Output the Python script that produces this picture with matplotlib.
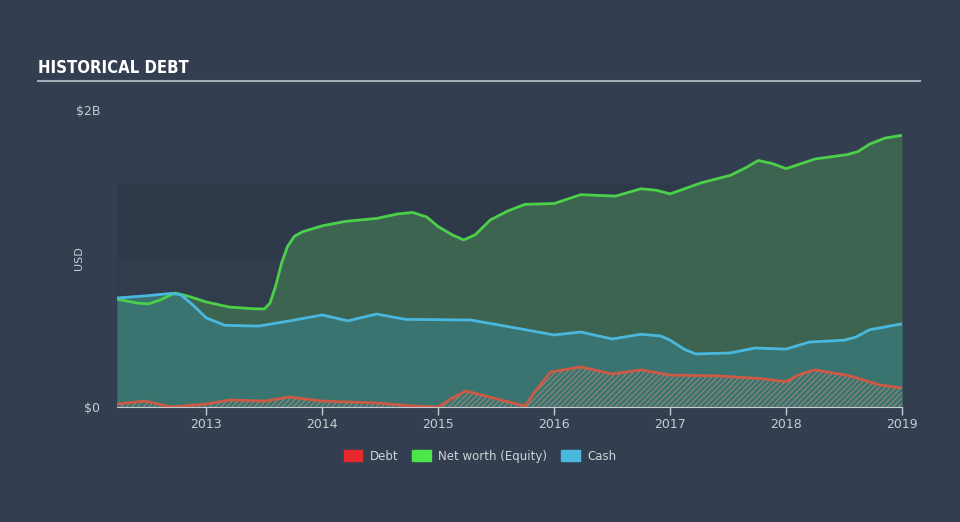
import matplotlib.pyplot as plt
from matplotlib.patches import Patch

# values in billions USD, x in decimal years
eq_x = [2012.23, 2012.4, 2012.5, 2012.6, 2012.73, 2012.85, 2013.0, 2013.2, 2013.4, 2013.5, 2013.55, 2013.6,
        2013.65, 2013.7, 2013.76, 2013.83, 2014.0, 2014.2, 2014.47, 2014.65, 2014.78, 2014.9, 2015.0,
        2015.12, 2015.22, 2015.32, 2015.45, 2015.6, 2015.75, 2016.0, 2016.23, 2016.53, 2016.75, 2016.88,
        2017.0, 2017.27, 2017.52, 2017.65, 2017.76, 2017.88, 2018.0, 2018.25, 2018.53, 2018.62, 2018.72,
        2018.85, 2019.0]
eq_y = [0.727, 0.70, 0.694, 0.72, 0.768, 0.745, 0.707, 0.673, 0.662, 0.66, 0.70, 0.82,
        0.97, 1.08, 1.15, 1.18, 1.22, 1.25, 1.27, 1.30, 1.31, 1.28, 1.215,
        1.16, 1.125, 1.16, 1.26, 1.32, 1.365, 1.37, 1.43, 1.42, 1.47, 1.46,
        1.435, 1.51, 1.56, 1.61, 1.66, 1.64, 1.605, 1.67, 1.70, 1.72, 1.77,
        1.81, 1.83]

cash_x = [2012.23, 2012.5, 2012.7, 2012.78, 2012.88, 2013.0, 2013.16, 2013.45, 2013.72, 2014.0, 2014.22,
          2014.47, 2014.72, 2015.28, 2015.72, 2016.0, 2016.23, 2016.5, 2016.75, 2016.92, 2017.0, 2017.12,
          2017.22, 2017.52, 2017.73, 2018.0, 2018.2, 2018.5, 2018.6, 2018.72, 2019.0]
cash_y = [0.734, 0.75, 0.765, 0.755, 0.69, 0.60, 0.55, 0.545, 0.58, 0.62, 0.58,
          0.626, 0.59, 0.586, 0.525, 0.485, 0.505, 0.458, 0.49, 0.478, 0.45, 0.39,
          0.357, 0.364, 0.397, 0.39, 0.437, 0.45, 0.47, 0.52, 0.56]

debt_x = [2012.23, 2012.47, 2012.7, 2013.0, 2013.2, 2013.5, 2013.72, 2014.0, 2014.47, 2014.77, 2015.0,
          2015.1, 2015.24, 2015.54, 2015.75, 2015.85, 2015.97, 2016.23, 2016.5, 2016.75, 2017.0, 2017.4,
          2017.8, 2018.0, 2018.12, 2018.25, 2018.55, 2018.8, 2019.0]
debt_y = [0.02, 0.04, 0.0, 0.02, 0.047, 0.04, 0.067, 0.04, 0.027, 0.007, 0.0,
          0.05, 0.108, 0.047, 0.007, 0.12, 0.236, 0.27, 0.222, 0.25, 0.215, 0.21,
          0.19, 0.17, 0.22, 0.25, 0.21, 0.15, 0.128]

years = [2013, 2014, 2015, 2016, 2017, 2018, 2019]

bg = "#333f50"
plt.rcParams['hatch.linewidth'] = 0.8

fig = plt.figure(figsize=(9.6, 5.22), dpi=100, facecolor=bg)
ax = fig.add_axes([117 / 960, 1 - 407 / 522, 785 / 960, 297 / 522])
ax.set_facecolor(bg)

ax.axhspan(1.0, 1.5, color="#2e3a4a", lw=0, zorder=0)
ax.axhspan(0.5, 1.0, color="#313d4d", lw=0, zorder=0)

ax.fill_between(eq_x, eq_y, 0, color="#3c6451", lw=0, zorder=1)
ax.fill_between(cash_x, cash_y, 0, color="#3a7470", lw=0, zorder=2)
ax.fill_between(debt_x, debt_y, 0, facecolor="none", edgecolor="#948679", hatch="//////", lw=0, zorder=3)

ax.plot(eq_x, eq_y, color="#4cd04a", lw=2, zorder=5, label="Net worth (Equity)", solid_joinstyle="round")
ax.plot(cash_x, cash_y, color="#4ab8de", lw=2, zorder=5, label="Cash", solid_joinstyle="round")
ax.plot(debt_x, debt_y, color="#cc5a44", lw=2, zorder=4, label="Debt", solid_joinstyle="round")

ax.set_xlim(2012.23, 2019.0)
ax.set_ylim(0, 2)
ax.set_xticks(years)
ax.set_xticklabels([str(y) for y in years])
ax.set_yticks([0, 2])
ax.set_yticklabels(["$0", "$2B"])
ax.tick_params(axis="x", colors="#c8ccd2", labelsize=9, length=6, width=1, pad=2)
ax.tick_params(axis="y", colors="#c8ccd2", labelsize=9, length=0, pad=12)
for side in ["top", "right", "left"]:
    ax.spines[side].set_visible(False)
ax.spines["bottom"].set_color("#c8ccd2")
ax.set_ylabel("USD", color="#c8ccd2", fontsize=8)
ax.yaxis.set_label_coords(-0.042, 0.5)

fig.text(38 / 960, 1 - 68 / 522, "HISTORICAL DEBT", color="white", fontsize=12, fontweight="bold",
         fontstretch="condensed", family=["DejaVu Sans"], va="center")
fig.add_artist(plt.Line2D([38 / 960, 920 / 960], [1 - 81 / 522] * 2, color="#a3abb5", lw=1.5))

handles = [Patch(color="#e8282c"), Patch(color="#4de64a"), Patch(color="#4ab8de")]
fig.legend(handles, ["Debt", "Net worth (Equity)", "Cash"], loc="center", bbox_to_anchor=(480 / 960, 1 - 456 / 522),
           ncol=3, frameon=False, fontsize=8.5, labelcolor="#d0d4da", handlelength=1.6, handleheight=1.1,
           columnspacing=1.2, handletextpad=0.6)

fig.savefig("out.png", dpi=100, facecolor=bg)
